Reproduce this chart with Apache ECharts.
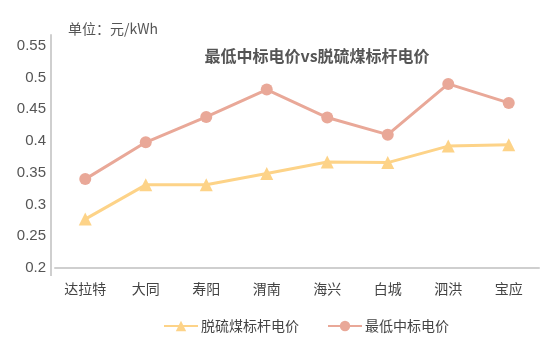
<!DOCTYPE html>
<html>
<head>
<meta charset="utf-8">
<script src="https://cdn.jsdelivr.net/npm/echarts@6/dist/echarts.min.js"></script>
<style>
  html, body { margin: 0; padding: 0; background: #fff; }
  #chart { width: 558px; height: 338px; }
</style>
</head>
<body>
<div id="chart"></div>
<script>
// Plant sites along the category axis
const sites = ['达拉特', '大同', '寿阳', '渭南', '海兴', '白城', '泗洪', '宝应'];
// Benchmark desulfurized-coal tariff (元/kWh)
const benchmarkPrice = [0.277, 0.331, 0.331, 0.349, 0.367, 0.366, 0.392, 0.394];
// Lowest winning bid tariff (元/kWh)
const lowestBid = [0.340, 0.398, 0.438, 0.481, 0.437, 0.410, 0.490, 0.460];
// Value-axis range and step
const yMin = 0.2;
const yMax = 0.567;
const yStep = 0.05;

const CJK = '"Noto Sans CJK SC", "Liberation Sans", sans-serif';
const NUM = '"Liberation Sans", Arial, sans-serif';

const chart = echarts.init(document.getElementById('chart'));
chart.setOption({
  animation: false,
  backgroundColor: '#fff',
  title: [
    {
      text: '最低中标电价vs脱硫煤标杆电价',
      left: 312,
      textAlign: 'center',
      top: 43,
      textStyle: { fontFamily: CJK, fontSize: 16, fontWeight: 'bold', color: '#555' }
    },
    {
      text: '单位：元/kWh',
      left: 68,
      top: 22,
      padding: 0,
      textStyle: { fontFamily: CJK, fontSize: 14, fontWeight: 'normal', color: '#555' }
    }
  ],
  legend: {
    left: 158,
    top: 314,
    itemWidth: 34,
    itemHeight: 13,
    itemGap: 28,
    textStyle: { fontFamily: CJK, fontSize: 14, color: '#444', padding: [0, 0, 0, -2] },
    data: ['脱硫煤标杆电价', '最低中标电价']
  },
  grid: { left: 55, right: 19, top: 35, bottom: 70 },
  xAxis: {
    type: 'category',
    data: sites,
    boundaryGap: true,
    axisLine: { lineStyle: { color: '#cfcfcf', width: 2 } },
    axisTick: { show: false },
    axisLabel: { fontFamily: CJK, fontSize: 14, color: '#444', margin: 14 }
  },
  yAxis: {
    type: 'value',
    min: yMin,
    max: yMax,
    interval: yStep,
    offset: 4,
    axisLine: { show: true, lineStyle: { color: '#cfcfcf', width: 2 } },
    axisTick: { show: false },
    splitLine: { show: false },
    axisLabel: {
      fontFamily: NUM, fontSize: 15, color: '#555', margin: 5,
      formatter: function (v) {
        const k = Math.round(v / yStep);
        if (Math.abs(v - k * yStep) > 1e-6) return '';
        return String(+v.toFixed(2));
      }
    }
  },
  series: [
    {
      name: '脱硫煤标杆电价',
      type: 'line',
      data: benchmarkPrice,
      symbol: 'triangle',
      symbolSize: 13,
      lineStyle: { color: '#FDD388', width: 3 },
      itemStyle: { color: '#FDD388' }
    },
    {
      name: '最低中标电价',
      type: 'line',
      data: lowestBid,
      symbol: 'circle',
      symbolSize: 12,
      lineStyle: { color: '#E9A898', width: 3 },
      itemStyle: { color: '#E9A898' }
    }
  ],
  // short stub of the value axis below the category axis
  graphic: [{
    type: 'line',
    shape: { x1: 51, y1: 268, x2: 51, y2: 276 },
    style: { stroke: '#cfcfcf', lineWidth: 2 }
  }]
});
</script>
</body>
</html>
